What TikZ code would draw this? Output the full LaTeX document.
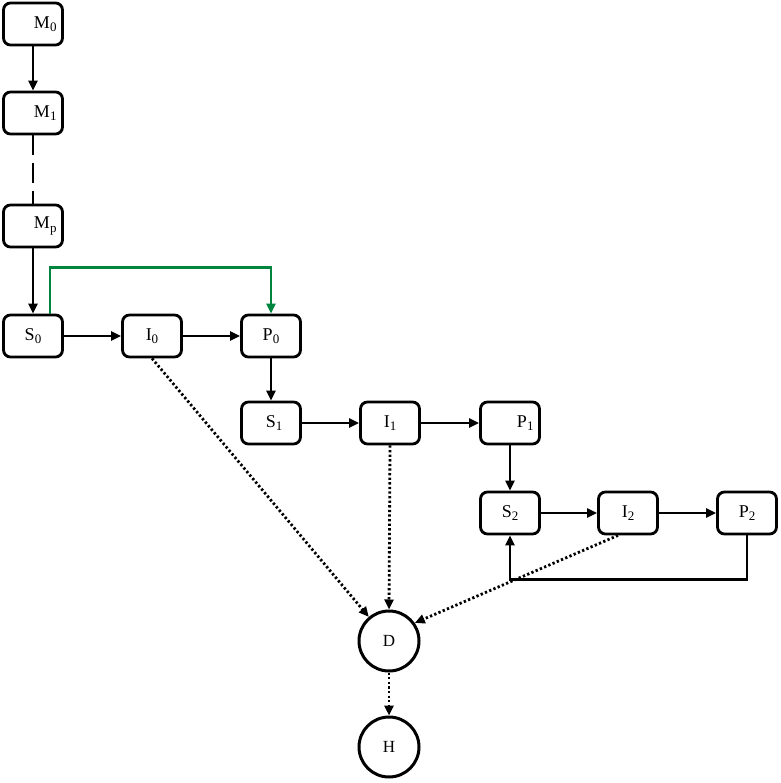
\documentclass[tikz,border=0pt]{standalone}
\usepackage{fontspec}
\setmainfont{Liberation Serif}
\usetikzlibrary{arrows.meta}
\definecolor{linkgreen}{RGB}{0,133,62}
\newcommand{\lsub}[1]{\raisebox{-3.5pt}{\fontsize{13}{13}\selectfont #1}}

\begin{document}
\begin{tikzpicture}[x=1pt, y=-1pt,
  box/.style={draw, rectangle, rounded corners=7pt, line width=2.8pt,
    minimum width=59pt, minimum height=42pt, inner sep=2pt,
    font=\fontsize{18}{20}\selectfont},
  rbox/.style={box, text width=47pt, align=right},
  state/.style={draw, circle, line width=3pt, minimum size=60pt,
    inner sep=0pt, font=\fontsize{17}{18}\selectfont},
  flow/.style={line width=2.5pt, -{Triangle[length=10pt, width=9pt]}},
  dep/.style={line width=2.8pt, dash pattern=on 2.3pt off 2.3pt,
    -{Triangle[length=10pt, width=9pt]}}]
  \useasboundingbox (0,0) rectangle (780,783);

  % model chain
  \node[rbox] (m0) at (33,24)  {M\lsub{0}};
  \node[rbox] (m1) at (33,113) {M\lsub{1}};
  \node[rbox] (mp) at (33,226) {M\lsub{p}};

  % stages
  \node[box]  (s0) at (33,336)  {S\lsub{0}};
  \node[box]  (i0) at (152,336) {I\lsub{0}};
  \node[box]  (p0) at (271,336) {P\lsub{0}};
  \node[box]  (s1) at (271,423) {\hspace*{6pt}S\lsub{1}};
  \node[box]  (i1) at (390,423) {I\lsub{1}};
  \node[rbox] (p1) at (510,423) {P\lsub{1}};
  \node[box]  (s2) at (510,513) {S\lsub{2}};
  \node[box]  (i2) at (628,513) {I\lsub{2}};
  \node[box]  (p2) at (747,513) {P\lsub{2}};

  \node[state] (d) at (389,641) {D};
  \node[state] (h) at (389,747) {H};

  \draw[flow] (m0) -- (m1);
  \draw[line width=2.5pt, dash pattern=on 20pt off 8pt] (m1) -- (mp);
  \draw[flow] (mp) -- (s0);

  \draw[flow] (s0) -- (i0);
  \draw[flow] (i0) -- (p0);
  \draw[flow] (p0) -- (s1);
  \draw[flow] (s1) -- (i1);
  \draw[flow] (i1) -- (p1);
  \draw[flow] (p1) -- (s2);
  \draw[flow] (s2) -- (i2);
  \draw[flow] (i2) -- (p2);

  % skip and feedback
  \draw[flow, line width=2.8pt, draw=linkgreen,
    -{Triangle[length=10pt, width=9pt, fill=linkgreen]}]
    ([xshift=17pt]s0.north) -- ++(0,-46) -| (p0.north);
  \draw[flow] (p2.south) -- ++(0,44) -| (s2.south);

  % dependencies
  \draw[dep] (i0.south) -- (d.130);
  \draw[dep] (i1.south) -- (d.north);
  \draw[dep] ([xshift=-10pt]i2.south) -- (d.35);
  \draw[dep] (d) -- (h);
\end{tikzpicture}
\end{document}
